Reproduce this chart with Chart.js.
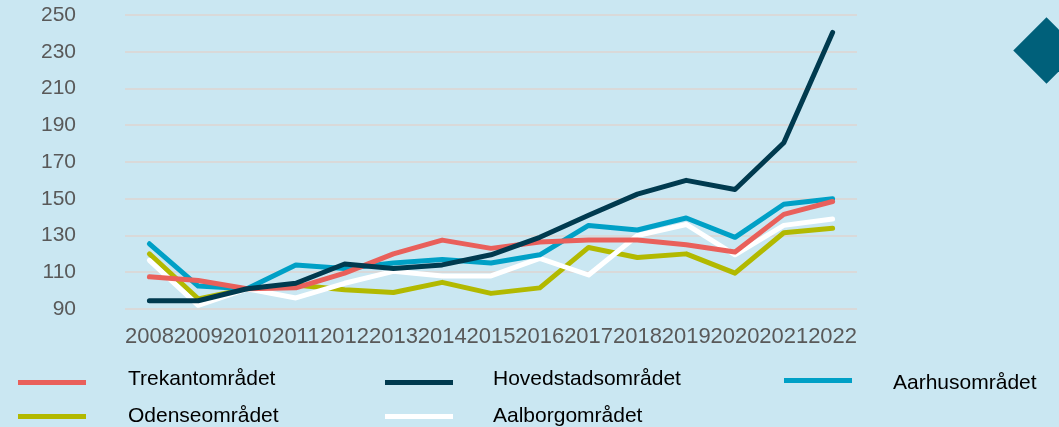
<!DOCTYPE html>
<html>
<head>
<meta charset="utf-8">
<script src="https://cdn.jsdelivr.net/npm/chart.js@4"></script>
<style>
  html, body { margin: 0; padding: 0; background: #cae7f2; }
  #wrap { position: relative; width: 1059px; height: 427px; overflow: hidden; background: #cae7f2; }
  #chart { position: absolute; left: 0; top: 0; }
  .diamond { position: absolute; left: 1023px; top: 27px; width: 47px; height: 47px; background: #00607a; transform: rotate(45deg); }
  .legend-item { position: absolute; font-family: "Liberation Sans", Arial, sans-serif; font-size: 21px; color: #000; }
  .legend-item .swatch { position: absolute; width: 68px; height: 5px; }
  .legend-item .label { position: absolute; white-space: nowrap; line-height: 24px; }
</style>
</head>
<body>
<div id="wrap">
  <canvas id="chart" width="1059" height="427"></canvas>
  <div class="diamond"></div>
  <div id="legend"></div>
</div>
<script>
// data //
const years = ['2008', '2009', '2010', '2011', '2012', '2013', '2014', '2015', '2016', '2017', '2018', '2019', '2020', '2021', '2022'];

const trekant    = [107.5, 105.5, 101, 101.5, 109.5, 120, 127.5, 123, 126.5, 127.5, 127.5, 125, 121, 141.5, 148.5];
const hovedstad  = [94.5, 94.5, 101, 104, 114.5, 112, 114, 119.5, 129, 141, 152.5, 160, 155, 180.5, 240.5];
const aarhus     = [125.5, 102.5, 101, 114, 112, 115, 117, 115, 119.5, 135.5, 133, 139.5, 129, 147, 150];
const odense     = [120, 95.5, 101, 103, 100.5, 99, 104.5, 98.5, 101.5, 123.5, 118, 120, 109.5, 131.5, 134];
const aalborg    = [116.5, 92, 101, 96, 104, 110.5, 108, 108, 117.5, 108.5, 130, 136, 119.5, 135.5, 139];

const yTicks = [90, 110, 130, 150, 170, 190, 210, 230, 250];

// series / legend layout //
const series = [
  { name: 'Trekantområdet',    data: trekant,   color: '#e9605b', lx: 18,  ly: 380, tx: 128, ty: 366 },
  { name: 'Hovedstadsområdet', data: hovedstad, color: '#003a4f', lx: 385, ly: 380, tx: 493, ty: 366 },
  { name: 'Aarhusområdet',     data: aarhus,    color: '#00a0c6', lx: 784, ly: 378, tx: 893, ty: 370 },
  { name: 'Odenseområdet',     data: odense,    color: '#b2b900', lx: 18,  ly: 414, tx: 128, ty: 403 },
  { name: 'Aalborgområdet',    data: aalborg,   color: '#ffffff', lx: 385, ly: 414, tx: 493, ty: 403 }
];

// draw order: dark on top
const drawOrder = ['Hovedstadsområdet', 'Trekantområdet', 'Aarhusområdet', 'Aalborgområdet', 'Odenseområdet'];

const datasets = series.map(s => ({
  label: s.name,
  data: s.data,
  borderColor: s.color,
  backgroundColor: s.color,
  borderWidth: 5,
  pointRadius: 0,
  tension: 0,
  fill: false,
  borderCapStyle: 'round',
  borderJoinStyle: 'round',
  order: drawOrder.indexOf(s.name)
}));

new Chart(document.getElementById('chart'), {
  type: 'line',
  data: { labels: years, datasets: datasets },
  options: {
    responsive: false,
    animation: false,
    layout: { padding: { left: 0, right: 202, top: 15, bottom: 78 } },
    plugins: { legend: { display: false }, tooltip: { enabled: false } },
    scales: {
      x: {
        offset: true,
        grid: { display: false, drawTicks: false },
        border: { display: false },
        ticks: {
          autoSkip: false, maxRotation: 0, minRotation: 0, padding: 15,
          color: '#595959',
          font: { family: '"Liberation Sans", Arial, sans-serif', size: 22 }
        },
        afterFit: scale => { scale.height = 40; }
      },
      y: {
        min: 90, max: 250,
        afterBuildTicks: scale => { scale.ticks = yTicks.map(v => ({ value: v })); },
        grid: { color: '#d9d9d9', lineWidth: 2, drawTicks: false },
        border: { display: false },
        ticks: {
          padding: 49,
          color: '#595959',
          font: { family: '"Liberation Sans", Arial, sans-serif', size: 21 }
        },
        afterFit: scale => {
          scale.width = 125;
          // tick padding otherwise pushes the chart area down
          scale.paddingTop = 0;
          scale.paddingBottom = 0;
        }
      }
    }
  }
});

// legend //
const legendBox = document.getElementById('legend');
series.forEach(s => {
  const item = document.createElement('div');
  item.className = 'legend-item';
  item.innerHTML =
    `<div class="swatch" style="left:${s.lx}px;top:${s.ly}px;background:${s.color}"></div>` +
    `<div class="label" style="left:${s.tx}px;top:${s.ty}px">${s.name}</div>`;
  legendBox.appendChild(item);
});
</script>
</body>
</html>
